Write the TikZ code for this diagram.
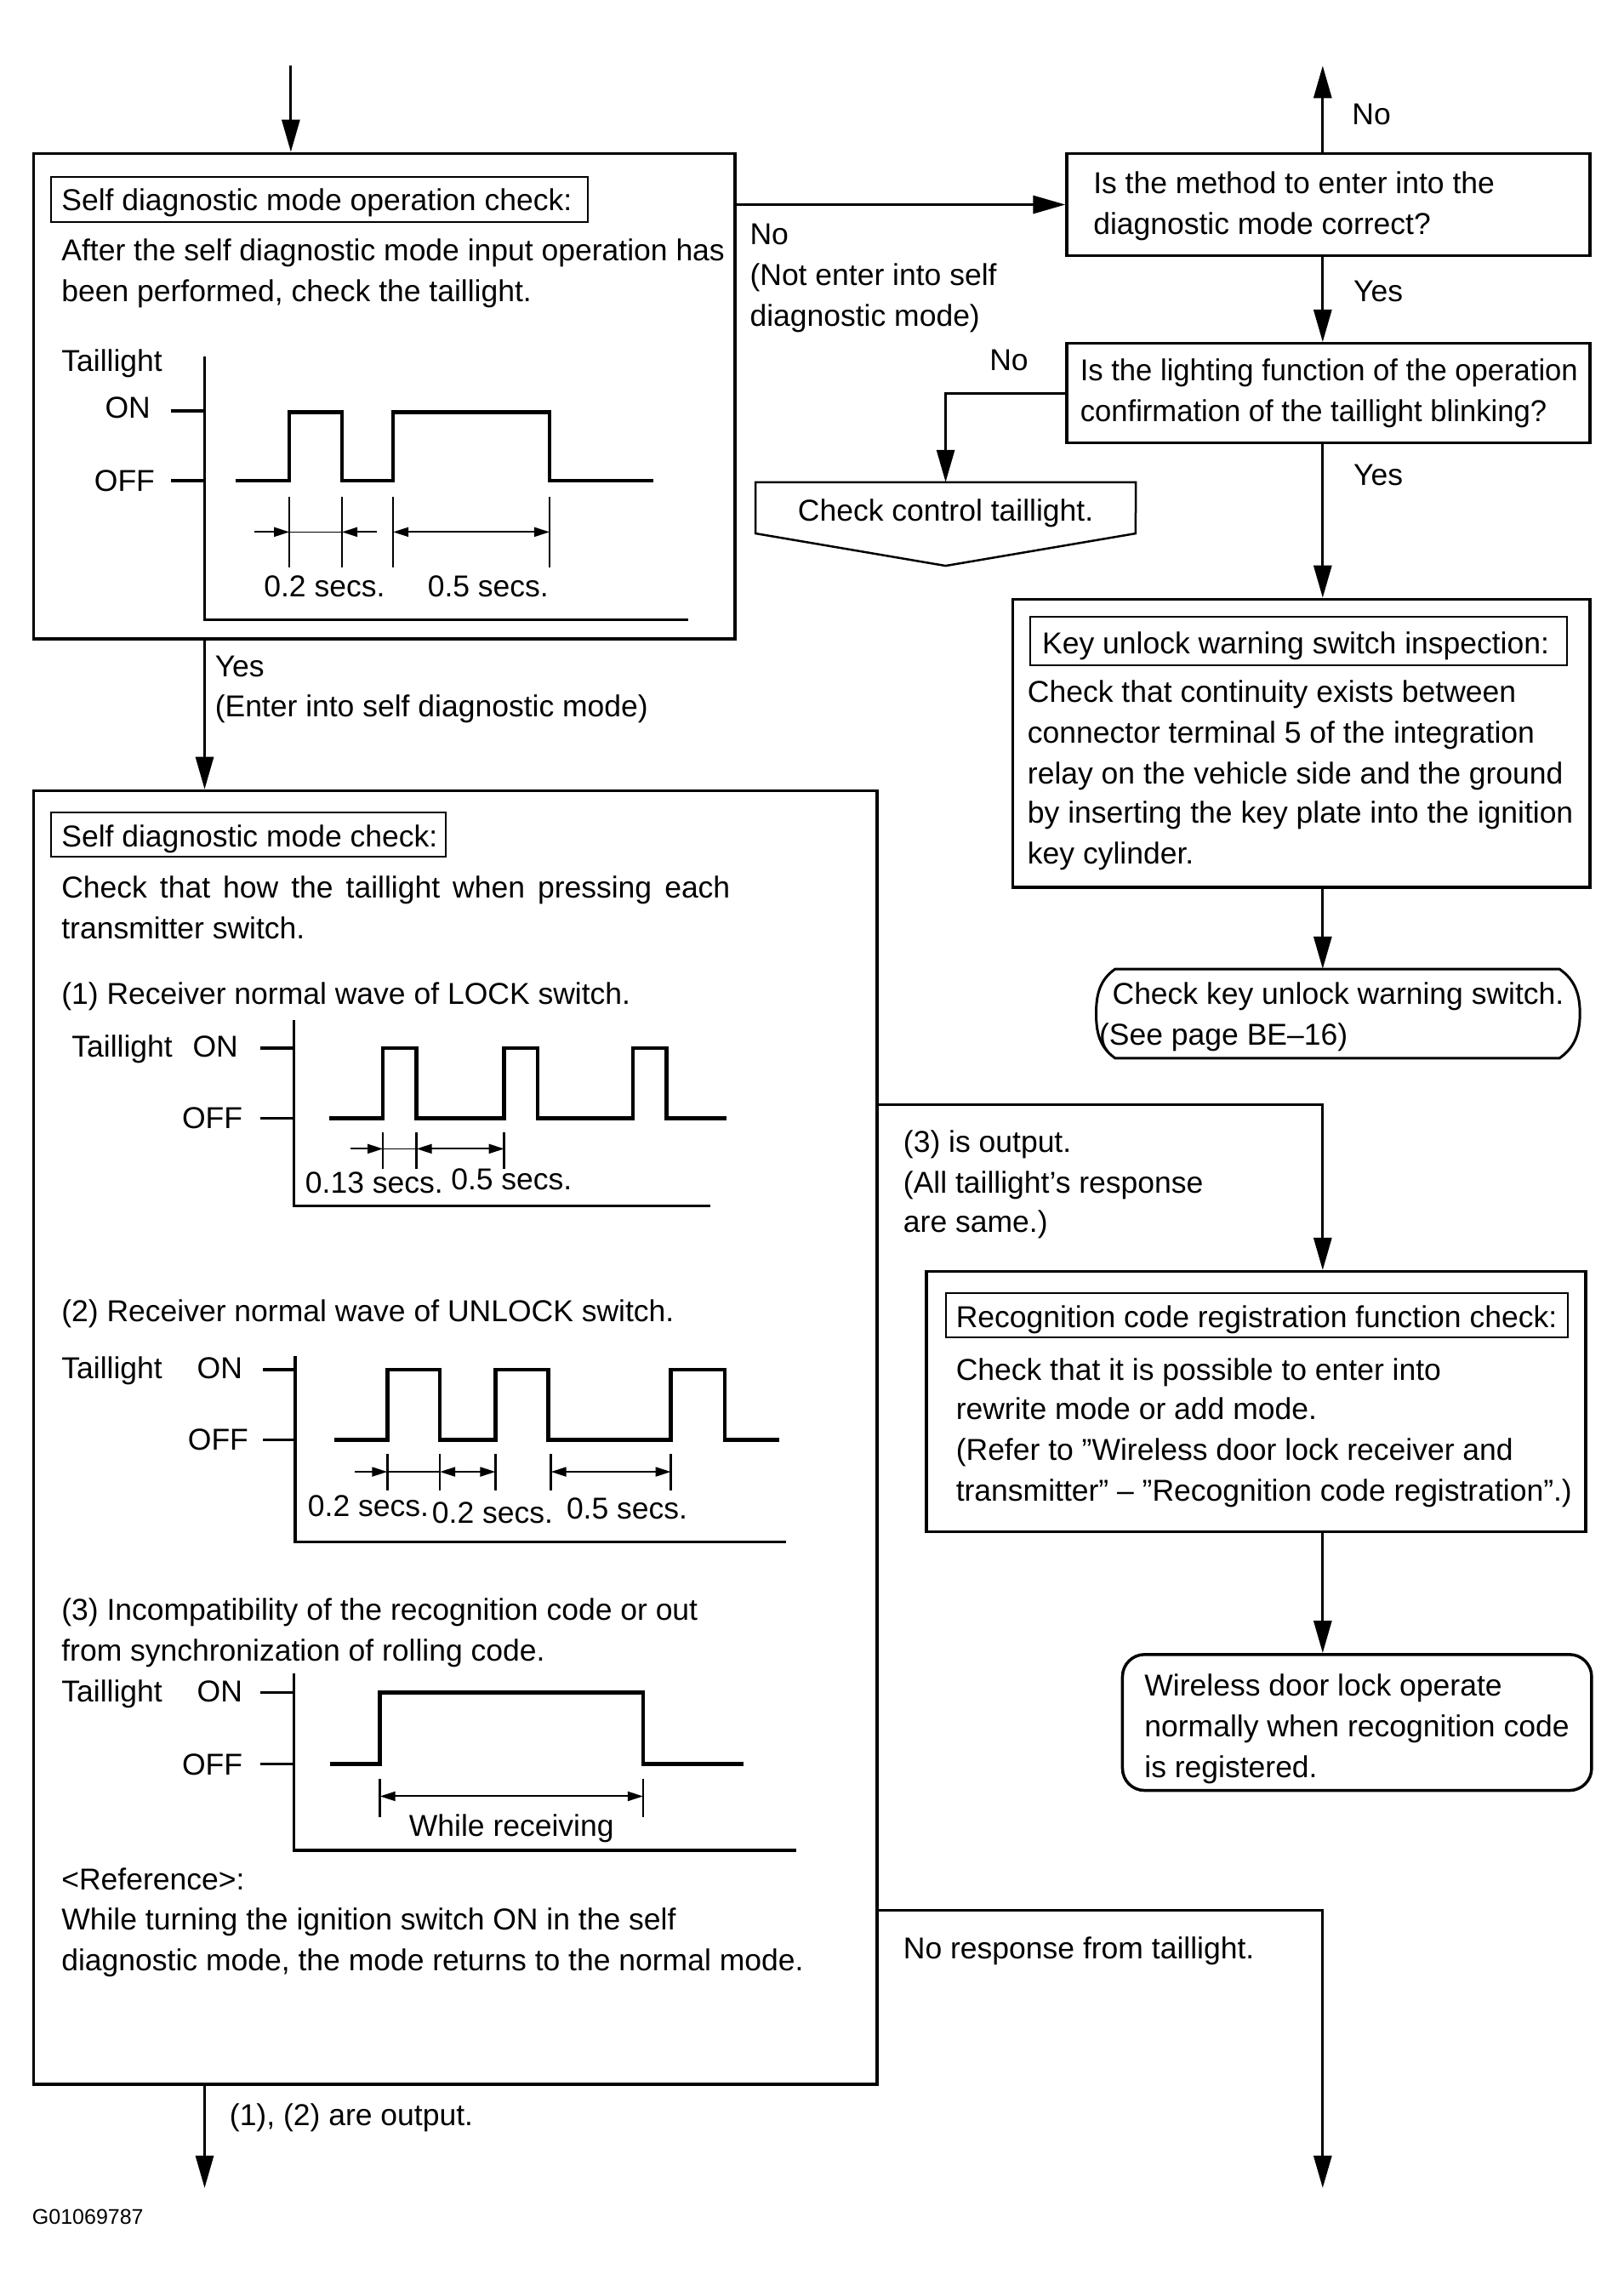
\documentclass[tikz,border=0pt]{standalone}
\usepackage{fontspec}
\usepackage{graphicx}
\setmainfont{Liberation Sans}
\usetikzlibrary{arrows.meta,fit}
\begin{document}
\begin{tikzpicture}[x=1.718pt,y=-1.718pt,
  txt/.style={inner sep=0pt,anchor=west,text height=25pt,text depth=0pt,font=\fontsize{35.5}{44}\selectfont},
  txtr/.style={txt,anchor=east},
  txtc/.style={txt,anchor=center},
  smalltxt/.style={inner sep=0pt,anchor=west,text height=17pt,text depth=0pt,font=\fontsize{25}{30}\selectfont},
  box/.style={draw,line width=3.5pt,inner sep=0pt},
  tbox/.style={draw,line width=2pt,inner sep=0pt},
  ghost/.style={inner sep=0pt},
  conn/.style={line width=3pt,-{Triangle[length=38pt,width=21pt]}},
  plain/.style={line width=3pt},
  wave/.style={line width=4.5pt,line join=miter},
  axis/.style={line width=3.5pt},
  ext/.style={line width=2.5pt},
  dimr/.style={line width=2pt,-{Triangle[length=18pt,width=11pt]}},
  dimb/.style={line width=2pt,{Triangle[length=18pt,width=11pt]}-{Triangle[length=18pt,width=11pt]}},
]
\fill[white] (0,0) rectangle (1110.6,1567.5);
\useasboundingbox (0,0) rectangle (1110.6,1567.5);

% ---------- coordinates for free ends ----------
\coordinate (top) at (199,45);
\coordinate (upend) at (905,45);
\coordinate (colx) at (905,0);
\coordinate (lx) at (140,0);
\coordinate (r3y) at (0,756);
\coordinate (r4y) at (0,1307);
\coordinate (endL) at (140,1497);
\coordinate (endR) at (905,1497);

% ---------- Box A ----------
\node[box,fit={(23,105) (503,437)}] (A) {};
\node[tbox,fit={(35,121) (402,152)}] (At) {};
\node[txt] (a0) at (42,137) {Self diagnostic mode operation check:};
\node[txt] (a1) at (42,171) {After the self diagnostic mode input operation has};
\node[txt] (a2) at (42,199) {been performed, check the taillight.};
\node[txt] (a3) at (42,247) {Taillight};
\node[txtr] (a4) at (103,279) {ON};
\node[txtr] (a5) at (106,329) {OFF};
\draw[axis] (140,244) -- (140,424) -- (471,424);
\draw[axis] (117,281) -- (140,281);
\draw[axis] (117,329) -- (140,329);
\draw[wave] (161,329) -- (198,329) -- (198,282) -- (234,282) -- (234,329) -- (269,329) -- (269,282) -- (376,282) -- (376,329) -- (447,329);
\foreach \xx in {198,234,269,376} \draw[ext] (\xx,340) -- (\xx,388);
\draw[dimr] (174,364) -- (198,364);
\draw[line width=1.5pt] (198,364) -- (234,364);
\draw[dimr] (258,364) -- (234,364);
\draw[dimb] (269,364) -- (376,364);
\node[txtc] (a6) at (222,401) {0.2 secs.};
\node[txtc] (a7) at (334,401) {0.5 secs.};

% ---------- Box B ----------
\node[box,fit={(730,105) (1088,175)}] (B) {};
\node[txt] (b1) at (748,125) {Is the method to enter into the};
\node[txt] (b2) at (748,153) {diagnostic mode correct?};
\draw[conn] (top) -- (top |- A.north);
\draw[conn] (B.west -| A.east) -- (B.west);
\node[txt] (n1) at (513,160) {No};
\node[txt] (n2) at (513,188) {(Not enter into self};
\node[txt] (n3) at (513,216) {diagnostic mode)};
\draw[conn] (upend |- B.north) -- (upend);
\node[txt] (n4) at (925,78) {No};

% ---------- Box C ----------
\node[box,fit={(730,235) (1088,303)}] (C) {};
\node[txt] (c1) at (739,253) {\scalebox{0.975}[1]{Is the lighting function of the operation}};
\node[txt] (c2) at (739,281) {\scalebox{0.975}[1]{confirmation of the taillight blinking?}};
\draw[conn] (colx |- B.south) -- (colx |- C.north);
\node[txt] (y1) at (926,199) {Yes};

% ---------- D ----------
\node[ghost,fit={(517,330) (777,387)}] (D) {};
\draw[line width=2.5pt,line join=miter] (D.north west) -- (D.north east) -- (777,365) -- (D.south) -- (517,365) -- cycle;
\node[txtc] (d1) at (647,349) {Check control taillight.};
\draw[conn] (C.west) -| (D.north);
\node[txt] (n5) at (677,246) {No};

% ---------- Box E ----------
\node[box,fit={(693,410) (1088,607)}] (E) {};
\node[tbox,fit={(705,422) (1072,455)}] (Et) {};
\node[txt] (e0) at (713,440) {Key unlock warning switch inspection:};
\node[txt] (e1) at (703,473) {Check that continuity exists between};
\node[txt] (e2) at (703,501) {connector terminal 5 of the integration};
\node[txt] (e3) at (703,529) {relay on the vehicle side and the ground};
\node[txt] (e4) at (703,556) {by inserting the key plate into the ignition};
\node[txt] (e5) at (703,584) {key cylinder.};
\draw[conn] (colx |- C.south) -- (colx |- E.north);
\node[txt] (y2) at (926,325) {Yes};

% ---------- F ----------
\node[ghost,fit={(750,663) (1081,724)}] (F) {};
\draw[plain] (763,663) -- (1067,663) to[out=-35,in=90] (1081,693.5) to[out=-90,in=35] (1067,724) -- (763,724) to[out=145,in=-90] (750,693.5) to[out=90,in=-145] cycle;
\node[txt] (f1) at (761,680) {Check key unlock warning switch.};
\node[txt] (f2) at (752,708) {(See page BE–16)};
\draw[conn] (colx |- E.south) -- (colx |- F.north);

% ---------- Box G ----------
\node[box,fit={(23,541) (600,1426)}] (G) {};
\node[tbox,fit={(35,556) (305,586)}] (Gt) {};
\draw[conn] (lx |- A.south) -- (lx |- G.north);
\node[txt] (y3) at (147,456) {Yes};
\node[txt] (y4) at (147,483) {(Enter into self diagnostic mode)};
\node[txt] (g0) at (42,572) {Self diagnostic mode check:};
\node[txt] (g1) at (42,607) {\hbox to 786pt{Check that how the taillight when pressing each}};
\node[txt] (g2) at (42,635) {transmitter switch.};
\node[txt] (g3) at (42,680) {(1) Receiver normal wave of LOCK switch.};
% lock wave
\node[txt] (g4) at (49,716) {Taillight};
\node[txtr] (g5) at (163,716) {ON};
\node[txtr] (g6) at (166,765) {OFF};
\draw[axis] (201,698) -- (201,825) -- (486,825);
\draw[axis] (178,717) -- (201,717);
\draw[axis] (178,765) -- (201,765);
\draw[wave] (225,765) -- (262,765) -- (262,717) -- (285,717) -- (285,765) -- (345,765) -- (345,717) -- (368,717) -- (368,765) -- (433,765) -- (433,717) -- (456,717) -- (456,765) -- (497,765);
\foreach \xx in {262,285,345} \draw[ext] (\xx,775) -- (\xx,800);
\draw[dimr] (240,786) -- (262,786);
\draw[line width=1.5pt] (262,786) -- (285,786);
\draw[dimb] (285,786) -- (345,786);
\node[txtc] (g7) at (256,809) {0.13 secs.};
\node[txtc] (g8) at (350,807) {0.5 secs.};
% unlock wave
\node[txt] (g9) at (42,897) {(2) Receiver normal wave of UNLOCK switch.};
\node[txt] (g10) at (42,936) {Taillight};
\node[txtr] (g11) at (166,936) {ON};
\node[txtr] (g12) at (170,985) {OFF};
\draw[axis] (202,928) -- (202,1055) -- (538,1055);
\draw[axis] (180,937) -- (202,937);
\draw[axis] (180,985) -- (202,985);
\draw[wave] (229,985) -- (265,985) -- (265,937) -- (301,937) -- (301,985) -- (339,985) -- (339,937) -- (375,937) -- (375,985) -- (459,985) -- (459,937) -- (496,937) -- (496,985) -- (533,985);
\foreach \xx in {265,301,339,377,459} \draw[ext] (\xx,995) -- (\xx,1020);
\draw[dimr] (243,1007) -- (265,1007);
\draw[line width=1.5pt] (265,1007) -- (301,1007);
\draw[dimb] (301,1007) -- (339,1007);
\draw[dimb] (377,1007) -- (459,1007);
\node[txtc] (g13) at (252,1030) {0.2 secs.};
\node[txtc] (g14) at (337,1035) {0.2 secs.};
\node[txtc] (g15) at (429,1032) {0.5 secs.};
% wave 3
\node[txt] (g16) at (42,1101) {(3) Incompatibility of the recognition code or out};
\node[txt] (g17) at (42,1129) {from synchronization of rolling code.};
\node[txt] (g18) at (42,1157) {Taillight};
\node[txtr] (g19) at (166,1157) {ON};
\node[txtr] (g20) at (166,1207) {OFF};
\draw[axis] (201,1145) -- (201,1266) -- (545,1266);
\draw[axis] (178,1158) -- (201,1158);
\draw[axis] (178,1207) -- (201,1207);
\draw[wave] (226,1207) -- (260,1207) -- (260,1158) -- (440,1158) -- (440,1207) -- (509,1207);
\foreach \xx in {260,440} \draw[ext] (\xx,1217) -- (\xx,1243);
\draw[dimb] (260,1229) -- (440,1229);
\node[txtc] (g21) at (350,1249) {While receiving};
\node[txt] (g22) at (42,1286) {<Reference>:};
\node[txt] (g23) at (42,1313) {While turning the ignition switch ON in the self};
\node[txt] (g24) at (42,1341) {diagnostic mode, the mode returns to the normal mode.};

% ---------- Box H ----------
\node[box,fit={(634,870) (1085,1048)}] (H) {};
\node[tbox,fit={(647,885) (1073,915)}] (Ht) {};
\node[txt] (h0) at (654,901) {Recognition code registration function check:};
\node[txt] (h1) at (654,937) {Check that it is possible to enter into};
\node[txt] (h2) at (654,964) {rewrite mode or add mode.};
\node[txt] (h3) at (654,992) {(Refer to ”Wireless door lock receiver and};
\node[txt] (h4) at (654,1020) {transmitter” – ”Recognition code registration”.)};
\draw[conn] (G.east |- r3y) -| (colx |- H.north);
\node[txt] (o1) at (618,781) {(3) is output.};
\node[txt] (o2) at (618,809) {(All taillight’s response};
\node[txt] (o3) at (618,836) {are same.)};

% ---------- Box I ----------
\node[box,rounded corners=26pt,fit={(768,1132) (1089,1225)}] (I) {};
\node[txt] (i1) at (783,1153) {Wireless door lock operate};
\node[txt] (i2) at (783,1181) {normally when recognition code};
\node[txt] (i3) at (783,1209) {is registered.};
\draw[conn] (colx |- H.south) -- (colx |- I.north);

% ---------- bottom ----------
\draw[conn] (lx |- G.south) -- (endL);
\node[txt] (o4) at (157,1447) {(1), (2) are output.};
\draw[conn] (G.east |- r4y) -| (endR);
\node[txt] (o5) at (618,1333) {No response from taillight.};
\node[smalltxt] (code) at (22,1517) {G01069787};
\end{tikzpicture}
\end{document}
